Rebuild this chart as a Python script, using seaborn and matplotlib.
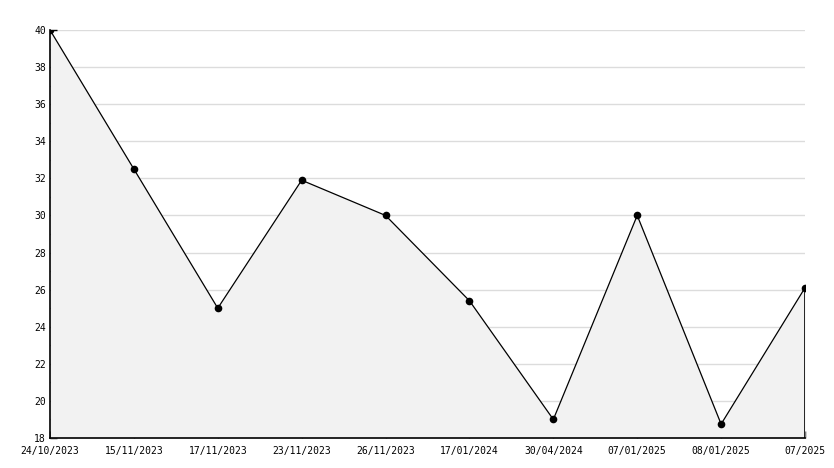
import matplotlib
matplotlib.use("Agg")
import matplotlib.pyplot as plt
import seaborn as sns
import pandas as pd
import numpy as np
from matplotlib.ticker import MultipleLocator

dates = ["24/10/2023", "15/11/2023", "17/11/2023", "23/11/2023", "26/11/2023",
         "17/01/2024", "30/04/2024", "07/01/2025", "08/01/2025", "07/2025"]
values = [40.0, 32.5, 25.0, 31.9, 30.0, 25.4, 19.0, 30.0, 18.75, 26.1]

df = pd.DataFrame({"date": dates, "value": values})
df["pos"] = np.arange(len(dates))

sns.set_style("white")
plt.rcParams["font.family"] = ["DejaVu Sans Mono", "DejaVu Sans"]

fig = plt.figure(figsize=(8.34, 4.68), dpi=100)
ax = fig.add_axes([50/834, 30/468, 755/834, 408/468])

ax.fill_between(df["pos"], df["value"], 18, color="#f2f2f2", zorder=1, linewidth=0)
sns.lineplot(data=df, x="pos", y="value", ax=ax, color="black", linewidth=0.9,
             marker="o", markersize=5.5, markeredgewidth=0, markerfacecolor="black", zorder=3)
ax.plot([df["pos"].iloc[-1]] * 2, [18, values[-1]], color="black", linewidth=1.2, zorder=3)

ax.set_xlim(0, len(dates) - 1)
ax.set_ylim(18, 40)
ax.yaxis.set_major_locator(MultipleLocator(2))
ax.yaxis.set_minor_locator(MultipleLocator(1))
ax.set_xticks(df["pos"])
ax.set_xticklabels(dates)
ax.grid(axis="y", which="major", color="#dcdcdc", linewidth=1, zorder=0)
ax.set_axisbelow(True)

for s in ["top", "right"]:
    ax.spines[s].set_visible(False)
for s in ["left", "bottom"]:
    ax.spines[s].set_color("black")
    ax.spines[s].set_linewidth(1.2)

ax.tick_params(axis="both", which="both", direction="in", colors="black",
               labelsize=7, width=1)
ax.tick_params(axis="y", which="both", left=True, length=5)
ax.tick_params(axis="y", which="major", pad=3)
ax.tick_params(axis="x", which="major", bottom=True, length=5, pad=6)
ax.set_xlabel("")
ax.set_ylabel("")

fig.savefig("out.png", dpi=100)
